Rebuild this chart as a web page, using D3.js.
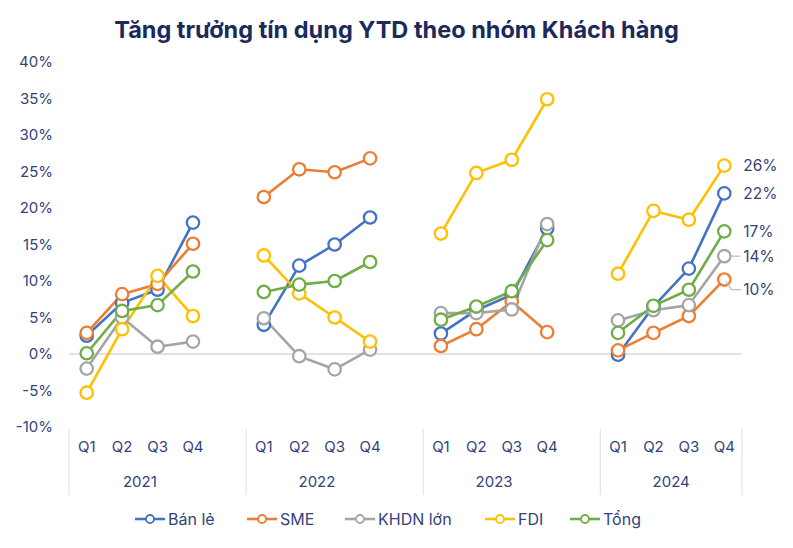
<!DOCTYPE html>
<html><head><meta charset="utf-8">
<script src="https://cdn.jsdelivr.net/npm/d3@7/dist/d3.min.js"></script>
<style>
html,body{margin:0;padding:0;background:#fff;}
svg{display:block;font-family:Inter,"Open Sans",sans-serif;}
</style></head><body>
<svg id="c" width="793" height="548"></svg>
<script>
const title = "Tăng trưởng tín dụng YTD theo nhóm Khách hàng";
const years = ["2021","2022","2023","2024"];
const quarters = ["Q1","Q2","Q3","Q4"];
const seriesNames = ["Bán lẻ","SME","KHDN lớn","FDI","Tổng"];
const colors = ["#4472C4","#ED7D31","#A5A5A5","#FFC000","#70AD47"];
const yTicks = [-10,-5,0,5,10,15,20,25,30,35,40];
// values per series, per year (Q1..Q4), in %
const banLe = [[2.5,7.0,8.8,18.0],[4.0,12.1,15.0,18.7],[2.8,6.0,8.1,17.2],[-0.1,6.5,11.7,22.0]];
const sme   = [[2.9,8.2,9.6,15.1],[21.5,25.3,24.9,26.8],[1.1,3.4,7.2,3.0],[0.5,2.9,5.2,10.2]];
const khdn  = [[-2.0,5.0,1.0,1.7],[4.9,-0.3,-2.1,0.6],[5.6,5.6,6.1,17.8],[4.6,6.0,6.7,13.4]];
const fdi   = [[-5.3,3.4,10.7,5.2],[13.5,8.3,5.0,1.7],[16.5,24.8,26.6,34.9],[11.0,19.6,18.4,25.8]];
const tong  = [[0.1,5.9,6.7,11.3],[8.5,9.5,10.0,12.6],[4.7,6.5,8.6,15.6],[2.9,6.6,8.8,16.8]];
const endLabels = ["22%","10%","14%","26%","17%"];
const allSeries = [banLe, sme, khdn, fdi, tong];

const svg = d3.select("#c");
const W = 793, H = 548;
const mLeft = 69, mRight = 742, mTop = 62, mBottom = 427;

// categories: each year has Q1..Q4 + spacer (except last)
const cats = [];
years.forEach((yr,yi)=>{
  quarters.forEach(q=>cats.push(yr+"|"+q));
  if (yi < years.length-1) cats.push(yr+"|gap");
});
const x = d3.scaleBand().domain(cats).range([mLeft,mRight]).padding(0);
const y = d3.scaleLinear().domain([-10,40]).range([mBottom,mTop]);
const cx = k => x(k) + x.bandwidth()/2;

// title
svg.append("text").attr("x",W/2).attr("y",38).attr("text-anchor","middle")
  .attr("font-size",23.5).attr("font-weight",700).attr("fill","#1b2a5c").text(title);

// y axis labels
const yAxis = d3.axisLeft(y).tickValues(yTicks).tickFormat(d=>d+"%").tickSize(0).tickPadding(0);
const ga = svg.append("g").attr("transform",`translate(${mLeft-16},0)`).call(yAxis);
ga.select(".domain").remove();
ga.selectAll("text").attr("font-size",15).attr("fill","#34437a").attr("font-family","Inter,sans-serif");

// zero line
svg.append("line").attr("x1",mLeft).attr("x2",mRight).attr("y1",y(0)).attr("y2",y(0))
  .attr("stroke","#d9d9d9").attr("stroke-width",1.5);

// x axis: quarter labels, year labels, separators
const gx = svg.append("g");
years.forEach((yr,yi)=>{
  quarters.forEach(q=>{
    gx.append("text").attr("x",cx(yr+"|"+q)).attr("y",452).attr("text-anchor","middle")
      .attr("font-size",15).attr("fill","#34437a").text(q);
  });
  gx.append("text").attr("x",(cx(yr+"|Q1")+cx(yr+"|Q4"))/2).attr("y",487).attr("text-anchor","middle")
    .attr("font-size",15).attr("fill","#34437a").text(yr);
});
const seps = years.map(yr=>x(yr+"|Q1")).concat([mRight]);
seps.forEach(sx=>{
  gx.append("line").attr("x1",sx).attr("x2",sx).attr("y1",mBottom+2).attr("y2",495)
    .attr("stroke","#e3e3e3").attr("stroke-width",1.2);
});

// lines and markers
const line = d3.line().x(d=>d.x).y(d=>d.y);
const plot = svg.append("g");
allSeries.forEach((s,si)=>{
  const col = colors[si];
  s.forEach((vals,yi)=>{
    const pts = vals.map((v,qi)=>({x:cx(years[yi]+"|"+quarters[qi]), y:y(v)}));
    plot.append("path").datum(pts).attr("d",line).attr("fill","none")
      .attr("stroke",col).attr("stroke-width",2.6).attr("stroke-linejoin","round");
  });
});
allSeries.forEach((s,si)=>{
  const col = colors[si];
  s.forEach((vals,yi)=>{
    vals.forEach((v,qi)=>{
      plot.append("circle").attr("cx",cx(years[yi]+"|"+quarters[qi])).attr("cy",y(v)).attr("r",6.2)
        .attr("fill","#fff").attr("stroke",col).attr("stroke-width",2.3);
    });
  });
});

// end labels for 2024 Q4
const lastX = cx("2024|Q4");
const labelOffsets = [0,10,0,0,0];
allSeries.forEach((s,si)=>{
  const v = s[3][3];
  const py = y(v);
  const ly = py + labelOffsets[si];
  if (si===1){
    svg.append("path").attr("d",`M${lastX+2},${py+2} L${lastX+7},${ly} L${lastX+17},${ly}`)
      .attr("fill","none").attr("stroke","#bfbfbf").attr("stroke-width",1.3);
  }
  if (si===2){
    svg.append("line").attr("x1",lastX+6).attr("x2",lastX+16).attr("y1",py).attr("y2",py)
      .attr("stroke","#bfbfbf").attr("stroke-width",1.3);
  }
  svg.append("text").attr("x",lastX+19).attr("y",ly).attr("dy","0.35em")
    .attr("font-size",15.5).attr("fill","#34437a").text(endLabels[si]);
});

// legend
const legX = [135,247,345,485,570];
const lg = svg.append("g");
seriesNames.forEach((n,i)=>{
  const lx = legX[i], ly = 519;
  lg.append("line").attr("x1",lx).attr("x2",lx+30).attr("y1",ly).attr("y2",ly)
    .attr("stroke",colors[i]).attr("stroke-width",2.6);
  lg.append("circle").attr("cx",lx+15).attr("cy",ly).attr("r",4).attr("fill","#fff")
    .attr("stroke",colors[i]).attr("stroke-width",1.8);
  lg.append("text").attr("x",lx+33).attr("y",ly).attr("dy","0.35em").attr("font-size",16)
    .attr("fill","#34437a").text(n);
});
</script></body></html>
